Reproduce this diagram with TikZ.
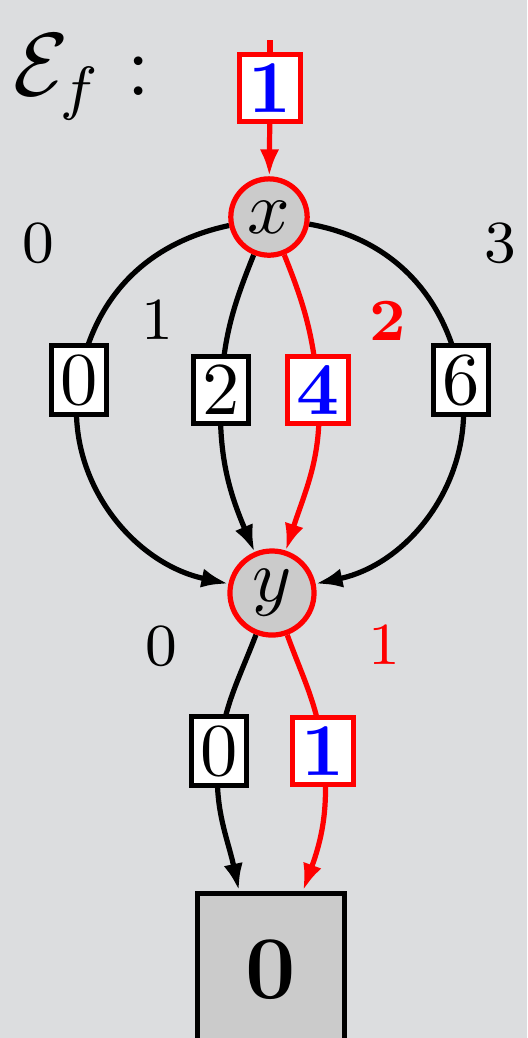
\documentclass[tikz,border=0pt]{standalone}
\usepackage{tikz}
\usetikzlibrary{arrows.meta}
\usetikzlibrary{backgrounds}

\definecolor{hintergrund}{HTML}{DCDDDF}
\definecolor{knotengrau}{HTML}{CBCBCB}

\begin{document}
\begin{tikzpicture}[x=0.134pt, y=-0.134pt, line width=0.7pt, >={Latex[length=3.6pt,width=2.6pt]},
  knoten/.style={circle,draw=red,fill=knotengrau,inner sep=1.1pt},
  wert/.style={rectangle,draw,fill=white,inner sep=1.2pt},
  rotwert/.style={wert,draw=red,text=blue,font=\bfseries},
  blatt/.style={rectangle,draw,fill=knotengrau,minimum width=19.7pt,minimum height=20.6pt,font=\large\bfseries},
  marke/.style={font=\footnotesize}]
\useasboundingbox (0,0) rectangle (527,1038);
\node [anchor=base west,inner sep=0pt,font=\large,name=titel] at (11,95) {$\mathcal{E}_f :$};
\coordinate (wurzel) at (270,40);
\node [rotwert,name=w1] at (270,88) {1};
\node [knoten,name=x] at (269,217) {$x$};
\node [wert,name=a0] at (79,380) {0};
\node [wert,name=a2] at (221,390) {2};
\node [rotwert,name=a4] at (318,390) {4};
\node [wert,name=a6] at (461,380) {6};
\node [knoten,name=y] at (272,593) {$y$};
\node [wert,name=b0] at (219,751) {0};
\node [rotwert,name=b1] at (323,751) {1};
\node [blatt,name=null] at (271,970) {0};
% Zweigmarken
\node [marke,name=mx0] at (38,243) {0};
\node [marke,name=mx1] at (157,320) {1};
\node [marke,name=mx2,text=red,font=\footnotesize\bfseries] at (388,321) {2};
\node [marke,name=mx3] at (500,243) {3};
\node [marke,name=my0] at (161,646) {0};
\node [marke,name=my1,text=red] at (384,645) {1};
% Kanten unter den Knoten
\begin{pgfonlayer}{background}
\begin{scope}[line width=0.7pt]
  \fill [hintergrund] (0,0) rectangle (527,1038);
  \draw [red] (wurzel) -- (w1);
  \draw [->,red] (w1) -- (x);
  \draw (x) to[out=192,in=80] (a0.center);
  \draw [->] (a0.center) to[out=260,in=168] (y);
  \draw (x) to[out=248,in=87] (a2.center);
  \draw [->] (a2.center) to[out=267,in=113] (y);
  \draw [red] (x) to[out=292,in=95] (a4.center);
  \draw [->,red] (a4.center) to[out=275,in=72] (y);
  \draw (x) to[out=-10,in=100] (a6.center);
  \draw [->] (a6.center) to[out=280,in=12] (y);
  \draw (y) to[out=249,in=83] (b0.center);
  \draw [->] (b0.center) to[out=263,in=102] (null.112);
  \draw [red] (y) to[out=290,in=97] (b1.center);
  \draw [->,red] (b1.center) to[out=277,in=70] (null.68);
\end{scope}
\end{pgfonlayer}
\end{tikzpicture}
\end{document}
